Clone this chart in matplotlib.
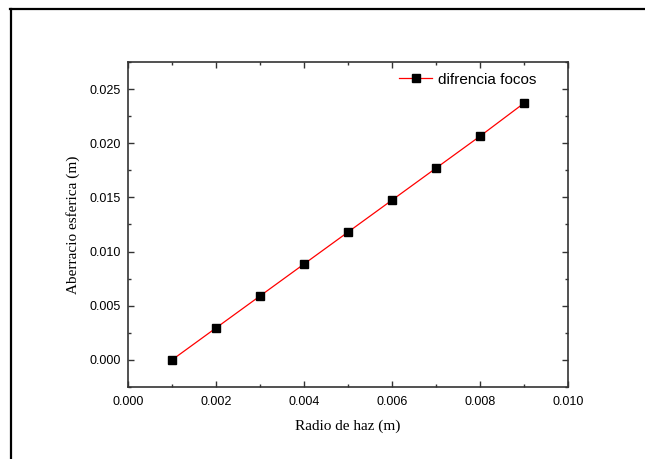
import matplotlib
matplotlib.use("Agg")
import matplotlib.pyplot as plt
from matplotlib.lines import Line2D
from matplotlib.ticker import MultipleLocator, FormatStrFormatter

radio = [0.001, 0.002, 0.003, 0.004, 0.005, 0.006, 0.007, 0.008, 0.009]
aberracion = [0.0, 0.00295, 0.0059, 0.00885, 0.0118, 0.01475, 0.0177, 0.02065, 0.0237]
serie = "difrencia focos"
xlabel = "Radio de haz (m)"
ylabel = "Aberracio esferica (m)"

W, H = 645, 459
fig = plt.figure(figsize=(W / 100, H / 100), dpi=100)
ax = fig.add_axes([128 / W, 1 - 387 / H, (568 - 128) / W, (387 - 62) / H])

ax.plot(radio, aberracion, color="red", lw=0.9, marker="s", ms=5.5,
        mfc="black", mec="black", label=serie)

ax.set_xlim(0.0, 0.010)
ax.set_ylim(-0.0025, 0.0275)
ax.xaxis.set_major_locator(MultipleLocator(0.002))
ax.xaxis.set_minor_locator(MultipleLocator(0.001))
ax.yaxis.set_major_locator(MultipleLocator(0.005))
ax.yaxis.set_minor_locator(MultipleLocator(0.0025))
ax.xaxis.set_major_formatter(FormatStrFormatter("%.3f"))
ax.yaxis.set_major_formatter(FormatStrFormatter("%.3f"))

for s in ax.spines.values():
    s.set_linewidth(1.2)
    s.set_color("#333333")
ax.tick_params(which="both", direction="in", top=True, right=True,
               color="#333333", width=1.0)
ax.tick_params(which="major", length=4.5, labelsize=9, pad=5)
ax.tick_params(axis="x", which="major", pad=6.5)
ax.tick_params(which="minor", length=2.5)
for lab in ax.get_xticklabels() + ax.get_yticklabels():
    lab.set_fontfamily("Liberation Sans")

ax.set_xlabel(xlabel, family="Liberation Serif", fontsize=11, labelpad=8.5)
ax.set_ylabel(ylabel, family="Liberation Serif", fontsize=11, labelpad=7)

leg = ax.legend(loc="upper right", frameon=False, prop={"family": "Liberation Sans", "size": 11},
                handlelength=2.2, handletextpad=0.35, borderaxespad=0.3,
                bbox_to_anchor=(0.952, 1.0))

# page frame (top and left edges)
fig.add_artist(Line2D([10 / W, 1.0], [1 - 9 / H, 1 - 9 / H], color="black", lw=1.6,
                      transform=fig.transFigure))
fig.add_artist(Line2D([11 / W, 11 / W], [0.0, 1 - 9 / H], color="black", lw=1.6,
                      transform=fig.transFigure))

fig.savefig("out.png", dpi=100, facecolor="white")
